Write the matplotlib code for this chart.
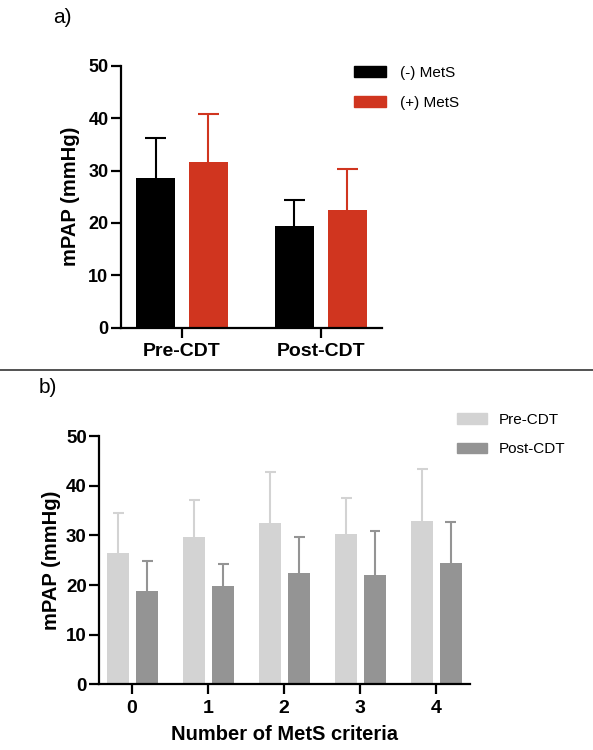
import numpy as np
import matplotlib
matplotlib.use("Agg")
import matplotlib.pyplot as plt
from matplotlib.patches import Patch
from matplotlib.lines import Line2D

plt.rcParams['font.family'] = ['Liberation Sans', 'DejaVu Sans']

# panel a data
groups_a = ['Pre-CDT', 'Post-CDT']
no_mets = [28.5, 19.4]
no_mets_sd = [7.7, 5.0]
yes_mets = [31.6, 22.4]
yes_mets_sd = [9.2, 8.0]

# panel b data
criteria = ['0', '1', '2', '3', '4']
pre_cdt = [26.5, 29.6, 32.4, 30.3, 32.9]
pre_cdt_sd = [8.0, 7.5, 10.3, 7.2, 10.5]
post_cdt = [18.7, 19.7, 22.4, 22.1, 24.4]
post_cdt_sd = [6.1, 4.5, 7.3, 8.8, 8.3]

RED = '#d0351f'
LIGHT = '#d3d3d3'
DARK = '#949494'

fig = plt.figure(figsize=(5.93, 7.5), dpi=100)


def style_axes(ax, ytick_size):
    for s in ['top', 'right']:
        ax.spines[s].set_visible(False)
    for s in ['left', 'bottom']:
        ax.spines[s].set_linewidth(1.6)
    ax.tick_params(axis='both', width=1.6, length=7, direction='out')
    ax.set_ylim(0, 50)
    ax.set_yticks([0, 10, 20, 30, 40, 50])
    for t in ax.get_yticklabels():
        t.set_fontsize(ytick_size)
        t.set_fontweight('bold')
    ax.tick_params(axis='y', pad=2)
    ax.tick_params(axis='x', pad=4)


def bars(ax, x, vals, sd, color, width, cap):
    # bar with upper-only error whisker
    vals = np.asarray(vals)
    tops = vals + np.asarray(sd)
    ax.bar(x, vals, width=width, color=color, zorder=2)
    ax.vlines(x, vals, tops, color=color, lw=1.5, zorder=1)
    ax.hlines(tops, x - cap, x + cap, color=color, lw=1.5, zorder=1)


# ---- a) ----
ax1 = fig.add_axes([0.204, 0.5633, 0.440, 0.3487])
xa = np.arange(len(groups_a))
bars(ax1, xa - 0.19, no_mets, no_mets_sd, 'black', 0.28, 0.076)
bars(ax1, xa + 0.19, yes_mets, yes_mets_sd, RED, 0.28, 0.076)
ax1.set_xlim(-0.44, 1.44)
ax1.set_xticks(xa)
ax1.set_xticklabels(groups_a, fontsize=14, fontweight='bold')
style_axes(ax1, 13)
ax1.set_ylabel('mPAP (mmHg)', fontsize=14.5, fontweight='bold', labelpad=6)

handles_a = [Patch(color='black'), Patch(color=RED)]
ax1.legend(handles_a, ['(-) MetS', '(+) MetS'], loc='upper left',
           bbox_to_anchor=(0.893, 1.0), frameon=False, fontsize=11,
           borderpad=0, borderaxespad=0,
           handlelength=2.07, handleheight=0.7, handletextpad=0.93,
           labelspacing=1.05)

fig.text(0.105, 0.977, 'a)', fontsize=15, va='center', ha='center')

# separator
fig.add_artist(Line2D([0, 1], [1 - 370 / 750, 1 - 370 / 750],
                      color='#444444', lw=1.3))

# ---- b) ----
ax2 = fig.add_axes([0.1675, 0.0876, 0.625, 0.331])
xb = np.arange(len(criteria))
bars(ax2, xb - 0.18, pre_cdt, pre_cdt_sd, LIGHT, 0.29, 0.072)
bars(ax2, xb + 0.2, post_cdt, post_cdt_sd, DARK, 0.29, 0.072)
ax2.set_xlim(-0.43, 4.45)
ax2.set_xticks(xb)
ax2.set_xticklabels(criteria, fontsize=14, fontweight='bold')
style_axes(ax2, 13.5)
ax2.set_ylabel('mPAP (mmHg)', fontsize=14.5, fontweight='bold', labelpad=4)
ax2.set_xlabel('Number of MetS criteria', fontsize=14.5, fontweight='bold',
               labelpad=6)

handles_b = [Patch(color=LIGHT), Patch(color=DARK)]
ax2.legend(handles_b, ['Pre-CDT', 'Post-CDT'], loc='upper left',
           bbox_to_anchor=(0.965, 1.093), frameon=False, fontsize=11,
           borderpad=0, borderaxespad=0,
           handlelength=1.96, handleheight=0.7, handletextpad=0.8,
           labelspacing=1.0)

fig.text(0.081, 0.483, 'b)', fontsize=15, va='center', ha='center')

fig.savefig('out.png', dpi=100)
